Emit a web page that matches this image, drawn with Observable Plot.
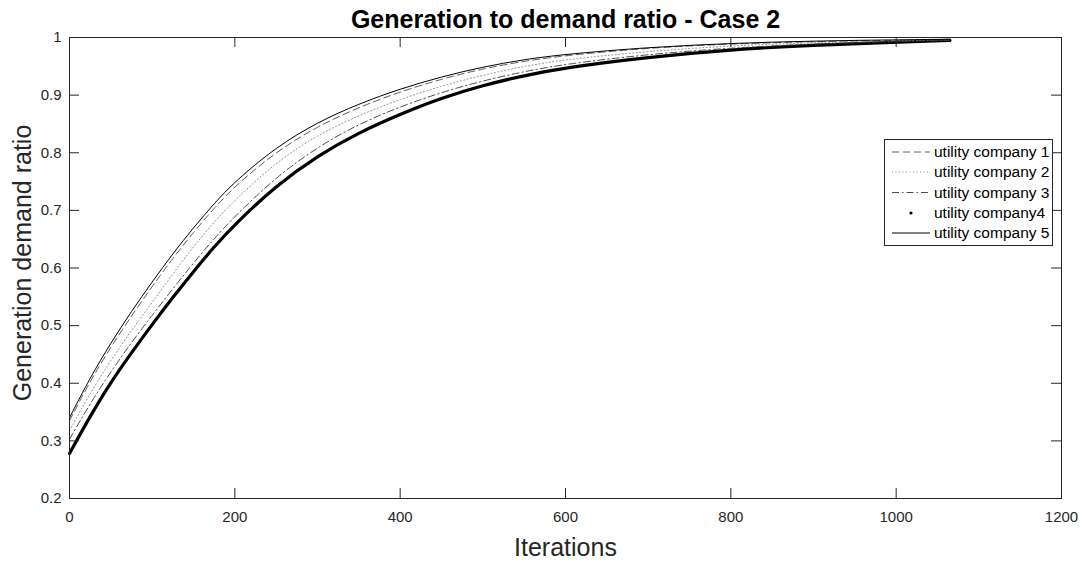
<!DOCTYPE html>
<html>
<head>
<meta charset="utf-8">
<script src="https://cdn.jsdelivr.net/npm/d3@7"></script>
<script src="https://cdn.jsdelivr.net/npm/@observablehq/plot@0.6"></script>
<style>
  body { margin: 0; background: #fff; }
  #wrap { position: relative; width: 1083px; height: 561px; font-family: "Liberation Sans", Arial, Helvetica, sans-serif; }
  #legend { position: absolute; left: 884px; top: 139px; line-height: 0; }
</style>
</head>
<body>
<div id="wrap"></div>
<script>
// ---- data ----
const iterations = [0, 25, 50, 75, 100, 125, 150, 175, 200, 250, 300, 350, 400, 450, 500, 550, 600, 700, 800, 900, 1000, 1065];
const company1 = [0.335, 0.404, 0.463, 0.517, 0.568, 0.617, 0.662, 0.704, 0.742, 0.802, 0.846, 0.879, 0.906, 0.928, 0.946, 0.959, 0.969, 0.982, 0.989, 0.993, 0.995, 0.996];
const company2 = [0.318, 0.383, 0.440, 0.492, 0.540, 0.590, 0.637, 0.680, 0.718, 0.784, 0.831, 0.865, 0.893, 0.916, 0.935, 0.950, 0.962, 0.976, 0.986, 0.991, 0.994, 0.996];
const company3 = [0.303, 0.365, 0.420, 0.471, 0.518, 0.564, 0.609, 0.651, 0.690, 0.758, 0.810, 0.850, 0.880, 0.905, 0.925, 0.941, 0.954, 0.971, 0.982, 0.989, 0.993, 0.995];
const company4 = [0.278, 0.343, 0.402, 0.453, 0.502, 0.549, 0.594, 0.637, 0.676, 0.743, 0.795, 0.835, 0.867, 0.895, 0.917, 0.934, 0.948, 0.966, 0.979, 0.987, 0.992, 0.995];
const company5 = [0.340, 0.410, 0.470, 0.525, 0.576, 0.625, 0.670, 0.712, 0.750, 0.810, 0.853, 0.885, 0.911, 0.932, 0.949, 0.962, 0.971, 0.983, 0.990, 0.994, 0.996, 0.997];
const seriesNames = ["utility company 1", "utility company 2", "utility company 3", "utility company4", "utility company 5"];
const xTicks = [0, 200, 400, 600, 800, 1000, 1200];
const yTicks = [0.2, 0.3, 0.4, 0.5, 0.6, 0.7, 0.8, 0.9, 1];
const yTickLabels = ["0.2", "0.3", "0.4", "0.5", "0.6", "0.7", "0.8", "0.9", "1"];
const titleText = "Generation to demand ratio - Case 2";
const xLabel = "Iterations";
const yLabel = "Generation demand ratio";

// ---- styles ----
const styles = [
  {stroke: "#4a4a4a", strokeWidth: 0.9, dash: "7,4"},
  {stroke: "#8a8a8a", strokeWidth: 1, dash: "1,2.5"},
  {stroke: "#3a3a3a", strokeWidth: 0.9, dash: "7,3,1.5,3"},
  {stroke: "#000", strokeWidth: 3.2, dash: null},
  {stroke: "#000", strokeWidth: 1, dash: null}
];
const allSeries = [company1, company2, company3, company4, company5];

const W = 1083, H = 561;
const mL = 69, mR = 22, mT = 37, mB = 63;
const innerW = W - mL - mR, innerH = H - mT - mB;
const axisColor = "#262626";
const font = "'Liberation Sans', Arial, Helvetica, sans-serif";

const lineMarks = [3, 0, 1, 2, 4].map(i => {
  const rows = iterations.map((x, k) => ({x, y: allSeries[i][k]}));
  const st = styles[i];
  const opts = {x: "x", y: "y", stroke: st.stroke, strokeWidth: st.strokeWidth, curve: "basis"};
  if (st.dash) opts.strokeDasharray = st.dash;
  return Plot.line(rows, opts);
});

const chart = Plot.plot({
  width: W, height: H,
  marginLeft: mL, marginRight: mR, marginTop: mT, marginBottom: mB,
  style: {fontFamily: font, fontSize: "15px", color: axisColor, background: "#fff"},
  x: {domain: [0, 1200], axis: null},
  y: {domain: [0.2, 1], axis: null},
  marks: [
    ...lineMarks,
    Plot.frame({stroke: axisColor, strokeWidth: 1}),
    Plot.tickX(xTicks, {x: d => d, insetTop: innerH - 10, stroke: axisColor}),
    Plot.tickX(xTicks, {x: d => d, insetBottom: innerH - 10, stroke: axisColor}),
    Plot.tickY(yTicks, {y: d => d, insetRight: innerW - 10, stroke: axisColor}),
    Plot.tickY(yTicks, {y: d => d, insetLeft: innerW - 10, stroke: axisColor}),
    Plot.axisX(xTicks, {anchor: "bottom", tickSize: 0, tickPadding: 13, label: null, tickFormat: d => String(d), fontSize: 15}),
    Plot.axisY(yTicks, {anchor: "left", tickSize: 0, tickPadding: 8, label: null, tickFormat: d => yTickLabels[yTicks.indexOf(d)], fontSize: 15}),
    Plot.text([titleText], {text: d => d, frameAnchor: "top", textAnchor: "middle", lineAnchor: "middle", dy: -18, fontSize: 25, fontWeight: "bold", fill: "#000"}),
    Plot.text([xLabel], {text: d => d, frameAnchor: "bottom", textAnchor: "middle", lineAnchor: "middle", dy: 49, fontSize: 25, fill: axisColor}),
    Plot.text([yLabel], {text: d => d, frameAnchor: "left", textAnchor: "middle", lineAnchor: "middle", dx: -47, dy: -5, rotate: -90, fontSize: 25, fill: axisColor})
  ]
});

const wrap = document.getElementById("wrap");
wrap.appendChild(chart);

// ---- legend (HTML overlay) ----
const lw = 169, lh = 107;
const leg = d3.select(wrap).append("div").attr("id", "legend")
  .append("svg").attr("width", lw).attr("height", lh)
  .style("font-family", font);
leg.append("rect").attr("x", 0.5).attr("y", 0.5).attr("width", lw - 1).attr("height", lh - 1)
  .attr("fill", "#fff").attr("stroke", axisColor).attr("stroke-width", 1);
const rowY = [13, 33, 53.5, 74, 94];
seriesNames.forEach((name, i) => {
  const st = styles[i];
  const y = rowY[i];
  if (i === 3) {
    leg.append("circle").attr("cx", 27).attr("cy", y).attr("r", 1.6).attr("fill", "#000");
  } else {
    const ln = leg.append("line").attr("x1", 8).attr("x2", 46).attr("y1", y).attr("y2", y)
      .attr("stroke", st.stroke).attr("stroke-width", i === 4 ? 1 : st.strokeWidth);
    if (st.dash) ln.attr("stroke-dasharray", st.dash);
  }
  leg.append("text").attr("x", 50).attr("y", y).attr("dy", "0.35em")
    .attr("font-size", 15.5).attr("fill", "#000").text(name);
});
</script>
</body>
</html>
